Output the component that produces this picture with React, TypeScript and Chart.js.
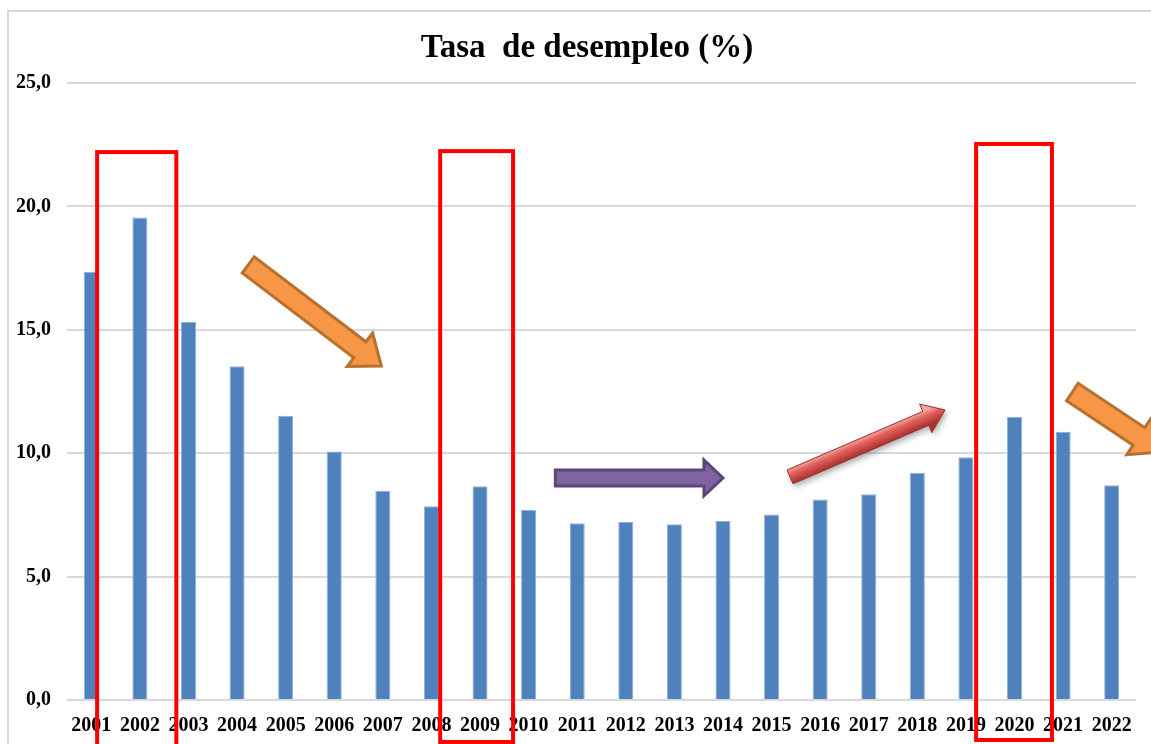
import React, { useEffect, useRef } from "react";
import { Chart, registerables } from "chart.js";

Chart.register(...registerables);

const years = [
  "2001", "2002", "2003", "2004", "2005", "2006", "2007", "2008", "2009", "2010", "2011",
  "2012", "2013", "2014", "2015", "2016", "2017", "2018", "2019", "2020", "2021", "2022",
];
const unemployment = [
  17.35, 19.55, 15.33, 13.52, 11.52, 10.07, 8.48, 7.85, 8.66, 7.71, 7.16,
  7.21, 7.12, 7.25, 7.52, 8.12, 8.34, 9.21, 9.84, 11.48, 10.87, 8.70,
];
const chartTitle = "Tasa  de desempleo (%)";

// Highlight boxes: [leftIndex, rightIndex, topValue, bottomValue]
const boxLeft = [0.12, 7.18, 18.21];
const boxRight = [1.75, 8.68, 19.77];
const boxTop = [22.2, 22.24, 22.53];
const boxBottom = [-2.2, -1.7, -1.62];

// Trend arrows: tail/tip in (index, value)
const arrowTailIdx = [3.23, 9.55, 14.38, 20.19];
const arrowTailVal = [17.63, 9.0, 9.04, 12.48];
const arrowTipIdx = [5.97, 13.0, 17.57, 22.04];
const arrowTipVal = [13.53, 9.0, 11.75, 10.05];

const FONT = "'Liberation Serif', 'Times New Roman', serif";

type ArrowStyle = { fill: string; stroke: string; shaft: number; head: number; headLen: number; grad?: boolean };
const arrowStyles: ArrowStyle[] = [
  { fill: "#F79646", stroke: "#B8702E", shaft: 20, head: 42, headLen: 27 },
  { fill: "#8064A2", stroke: "#5C4677", shaft: 16, head: 36, headLen: 19 },
  { fill: "#D9504D", stroke: "#9E2F2C", shaft: 15, head: 31, headLen: 21, grad: true },
  { fill: "#F79646", stroke: "#B8702E", shaft: 21, head: 44, headLen: 28 },
];

function drawArrow(ctx: CanvasRenderingContext2D, x1: number, y1: number, x2: number, y2: number, st: ArrowStyle) {
  const dx = x2 - x1, dy = y2 - y1;
  const len = Math.hypot(dx, dy);
  const ux = dx / len, uy = dy / len;
  const nx = -uy, ny = ux;
  const bx = x2 - ux * st.headLen, by = y2 - uy * st.headLen;
  const s = st.shaft / 2, h = st.head / 2;
  const pts = [
    [x1 + nx * s, y1 + ny * s],
    [bx + nx * s, by + ny * s],
    [bx + nx * h, by + ny * h],
    [x2, y2],
    [bx - nx * h, by - ny * h],
    [bx - nx * s, by - ny * s],
    [x1 - nx * s, y1 - ny * s],
  ];
  ctx.save();
  ctx.beginPath();
  pts.forEach((p, i) => (i === 0 ? ctx.moveTo(p[0], p[1]) : ctx.lineTo(p[0], p[1])));
  ctx.closePath();
  if (st.grad) {
    const g = ctx.createLinearGradient(x1 - nx * s, y1 - ny * s, x1 + nx * s, y1 + ny * s);
    g.addColorStop(0, "#F4A3A0");
    g.addColorStop(0.35, "#E2605C");
    g.addColorStop(1, "#A8322F");
    ctx.shadowColor = "rgba(0,0,0,0.35)";
    ctx.shadowBlur = 6;
    ctx.shadowOffsetX = 2;
    ctx.shadowOffsetY = 3;
    ctx.fillStyle = g;
    ctx.fill();
    ctx.shadowColor = "transparent";
    ctx.lineWidth = 1;
    ctx.strokeStyle = st.stroke;
    ctx.stroke();
  } else {
    ctx.fillStyle = st.fill;
    ctx.fill();
    ctx.lineWidth = 3;
    ctx.lineJoin = "miter";
    ctx.strokeStyle = st.stroke;
    ctx.stroke();
  }
  ctx.restore();
}

const framePlugin = {
  id: "frame",
  beforeDraw(chart: any) {
    const ctx = chart.ctx;
    ctx.save();
    ctx.fillStyle = "#ffffff";
    ctx.fillRect(0, 0, chart.width, chart.height);
    ctx.strokeStyle = "#D9D9D9";
    ctx.lineWidth = 2;
    ctx.strokeRect(8, 11, chart.width + 50, chart.height + 50);
    ctx.fillStyle = "#000";
    ctx.font = `bold 33px ${FONT}`;
    ctx.textAlign = "center";
    ctx.textBaseline = "middle";
    ctx.fillText(chartTitle, 587, 48);
    ctx.restore();
  },
};

const annotationPlugin = {
  id: "annotations",
  afterDatasetsDraw(chart: any) {
    const ctx = chart.ctx;
    const xs = chart.scales.x;
    const ys = chart.scales.y;
    arrowTailIdx.forEach((_, i) => {
      drawArrow(
        ctx,
        xs.getPixelForValue(arrowTailIdx[i]),
        ys.getPixelForValue(arrowTailVal[i]),
        xs.getPixelForValue(arrowTipIdx[i]),
        ys.getPixelForValue(arrowTipVal[i]),
        arrowStyles[i]
      );
    });
    ctx.save();
    ctx.strokeStyle = "#FF0000";
    ctx.lineWidth = 4;
    boxLeft.forEach((_, i) => {
      const l = xs.getPixelForValue(boxLeft[i]);
      const r = xs.getPixelForValue(boxRight[i]);
      const t = ys.getPixelForValue(boxTop[i]);
      const b = ys.getPixelForValue(boxBottom[i]);
      ctx.strokeRect(l, t, r - l, b - t);
    });
    ctx.restore();
  },
};

export default function App() {
  const ref = useRef<HTMLCanvasElement | null>(null);
  useEffect(() => {
    document.body.style.margin = "0";
    const canvas = ref.current;
    if (!canvas) return;
    const chart = new Chart(canvas, {
      type: "bar",
      data: {
        labels: years,
        datasets: [
          {
            data: unemployment,
            backgroundColor: "#4F81BD",
            borderColor: "#8FB0D8",
            borderWidth: 1,
            categoryPercentage: 1,
            barPercentage: 0.31,
          },
        ],
      },
      options: {
        animation: false,
        responsive: false,
        devicePixelRatio: 1,
        layout: { padding: { top: 83, right: 15, bottom: 0, left: 0 } },
        plugins: {
          legend: { display: false },
          tooltip: { enabled: false },
          title: { display: false },
        },
        scales: {
          x: {
            grid: { display: false, drawTicks: false },
            border: { display: false },
            ticks: {
              color: "#000",
              font: { family: FONT, size: 20, weight: "bold" },
              padding: 14,
              maxRotation: 0,
              autoSkip: false,
            },
            afterFit: (scale: any) => {
              scale.height = 44;
            },
          },
          y: {
            min: 0,
            max: 25,
            grid: { color: "#D9D9D9", lineWidth: 2, drawTicks: false },
            border: { display: false },
            ticks: {
              stepSize: 5,
              color: "#000",
              font: { family: FONT, size: 20, weight: "bold" },
              padding: 16,
              callback: (v: any) => Number(v).toFixed(1).replace(".", ","),
            },
            afterFit: (scale: any) => {
              scale.width = 67;
            },
          },
        },
      },
      plugins: [framePlugin, annotationPlugin],
    });
    return () => chart.destroy();
  }, []);
  return (
    <div style={{ width: 1151, height: 744 }}>
      <canvas ref={ref} width={1151} height={744} style={{ display: "block" }} />
    </div>
  );
}
